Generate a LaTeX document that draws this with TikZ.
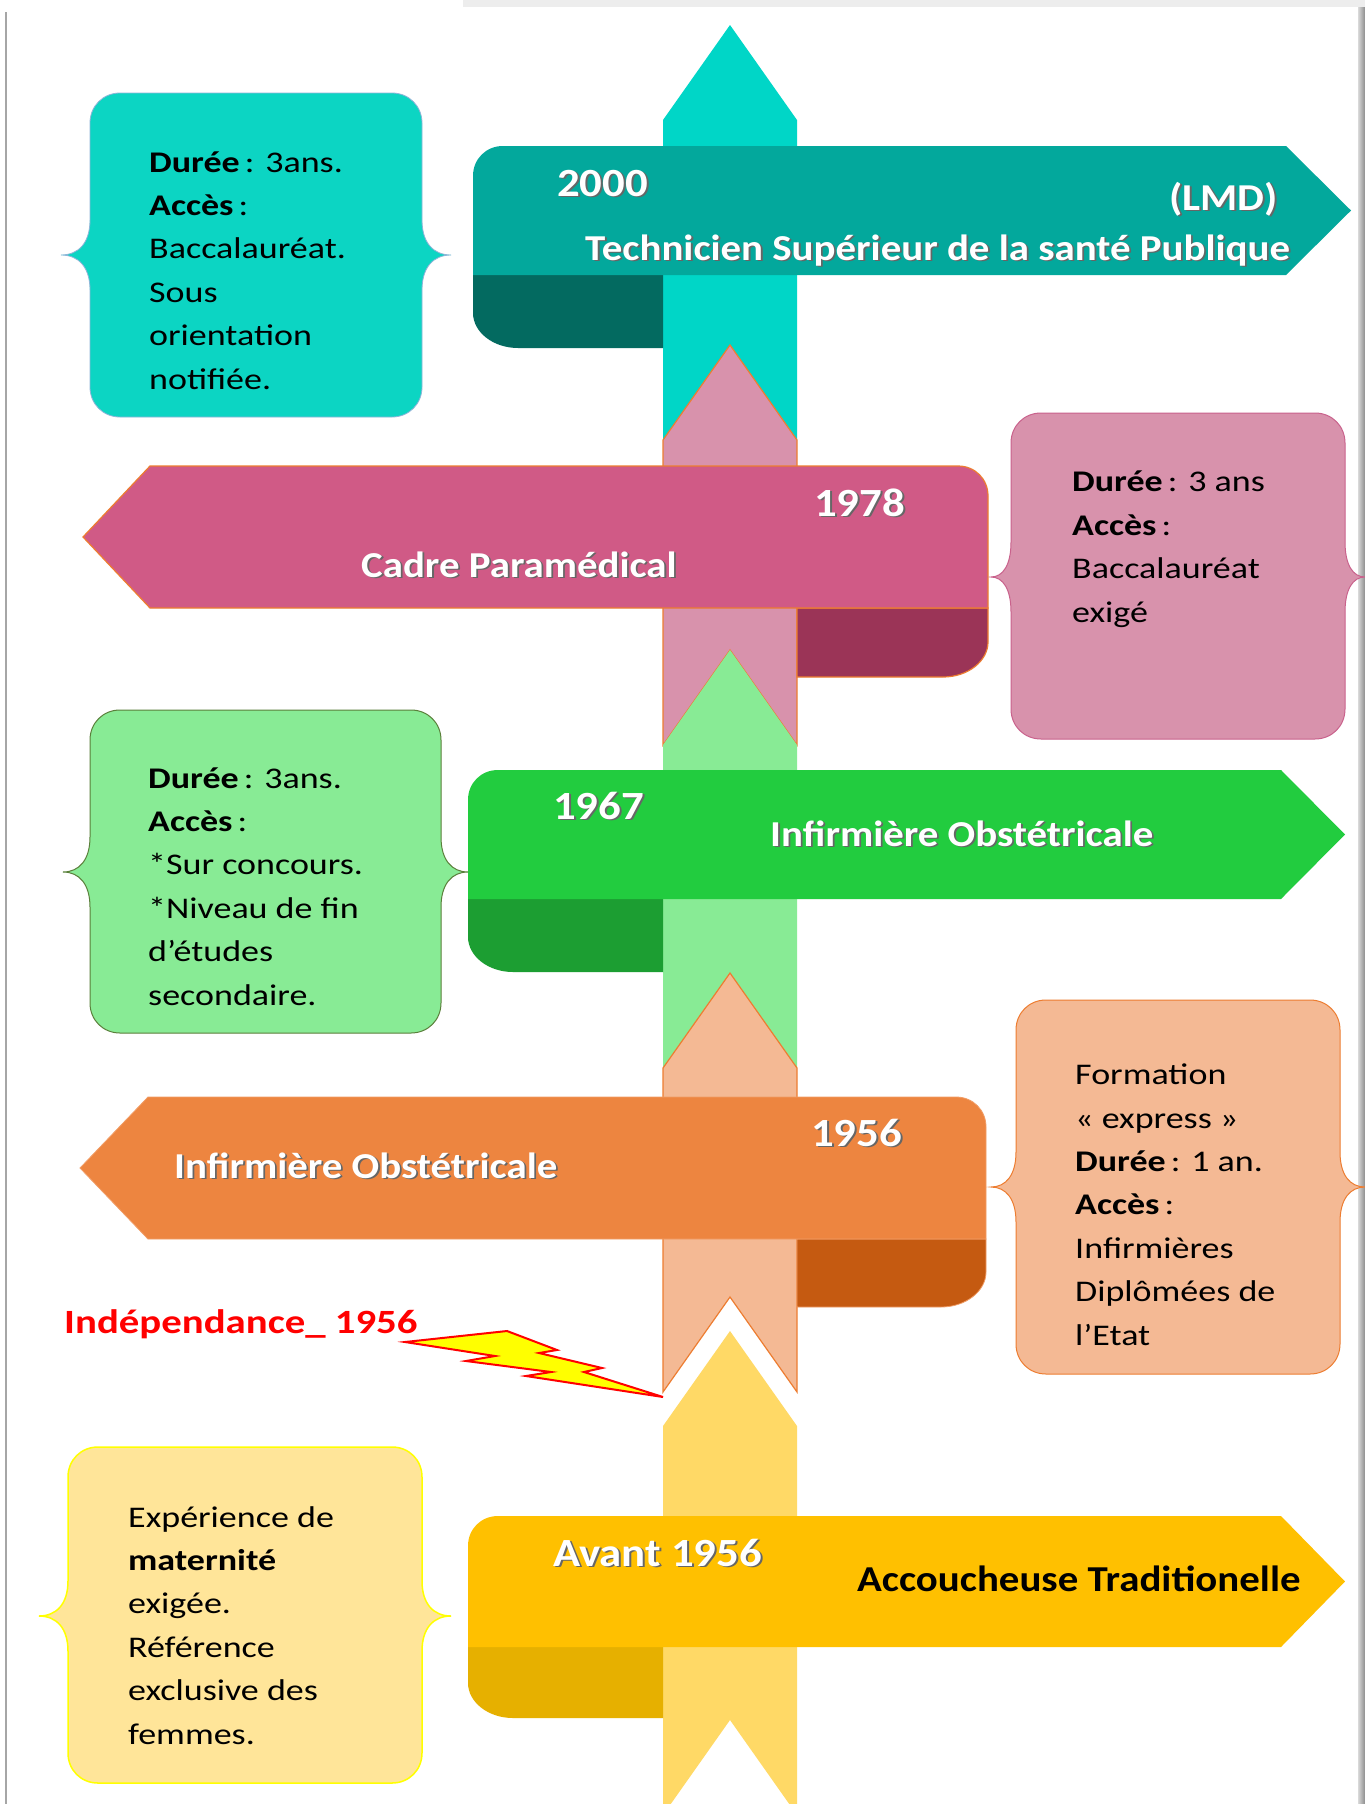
\documentclass[tikz,border=0pt]{standalone}
\usepackage{fontspec}
\setmainfont{Carlito}
\newfontfamily\boxfont{Carlito}[FakeStretch=1.2]
\newfontfamily\bandfont{Carlito}[FakeStretch=1.12]

% palette
\definecolor{tealSpine}{HTML}{00D6C7}
\definecolor{tealBoxc}{HTML}{0CD5C3}
\definecolor{tealBand}{HTML}{03A89C}
\definecolor{tealCurl}{HTML}{036A60}
\definecolor{tealEdge}{HTML}{8FB4D8}
\definecolor{pinkSpine}{HTML}{D892AC}
\definecolor{pinkBand}{HTML}{D05A86}
\definecolor{pinkCurl}{HTML}{9B3457}
\definecolor{pinkEdge}{HTML}{C9628C}
\definecolor{orangeLine}{HTML}{ED7D31}
\definecolor{greenSpine}{HTML}{88EB95}
\definecolor{greenBand}{HTML}{22CC3F}
\definecolor{greenCurl}{HTML}{1C9E32}
\definecolor{greenEdge}{HTML}{5A7F3A}
\definecolor{peach}{HTML}{F4B994}
\definecolor{orangeBand}{HTML}{ED8540}
\definecolor{orangeCurl}{HTML}{C55A11}
\definecolor{yellowSpine}{HTML}{FFD966}
\definecolor{yellowBand}{HTML}{FFC000}
\definecolor{yellowCurl}{HTML}{E6B000}
\definecolor{yellowBoxc}{HTML}{FFE599}
\definecolor{boltYellow}{HTML}{FFFF00}
\definecolor{boltRed}{HTML}{FF0000}

% white label with a soft drop shadow
\newcommand\shd[1]{\rlap{\kern1.8pt\raisebox{-1.8pt}{\textcolor{black!60}{#1}}}#1}

% spine segment: tip, shoulder, bottom corners, notch apex
\newcommand\chev[5]{%
  \path[#5] (730,#1) -- (797,#2) -- (797,#3) -- (730,#4) -- (663,#3) -- (663,#2) -- cycle;}

% ribbon pointing right: L, T, B, curl bottom, shoulder x, tip x, colour prefix
\newcommand\bandR[7]{%
  \fill[#7Curl] (663,{#3-5}) -- (663,#4) -- ({#1+45},#4)
     .. controls ({#1+20},#4) and (#1,{#4-16}) .. (#1,{#4-35}) -- (#1,{#3-5}) -- cycle;
  \fill[#7Band] (#1,{#2+30}) .. controls (#1,{#2+13}) and ({#1+13},#2) .. ({#1+30},#2)
     -- (#5,#2) -- (#6,{(#2+#3)/2}) -- (#5,#3) -- (#1,#3) -- cycle;}

% ribbon pointing left: R, T, B, curl bottom, shoulder x, tip x, colour prefix, extra
\newcommand\bandL[8]{%
  \path[fill=#7Curl,#8] (797,#3) -- (797,#4) -- ({#1-45},#4)
     .. controls ({#1-20},#4) and (#1,{#4-16}) .. (#1,{#4-35}) -- (#1,#3) -- cycle;
  \path[fill=#7Band,#8] (#1,{#2+30}) .. controls (#1,{#2+13}) and ({#1-13},#2) .. ({#1-30},#2)
     -- (#5,#2) -- (#6,{(#2+#3)/2}) -- (#5,#3) -- (#1,#3) -- cycle;}

% rounded box with brace-shaped sides: style, x1, y1, x2, y2, brace y, brace depth
\newcommand\bracebox[7]{%
  \path[#1] ({#2+30},#3) -- ({#4-30},#3) .. controls ({#4-13},#3) and (#4,{#3+13}) .. (#4,{#3+30})
   -- (#4,{#6-35}) .. controls (#4,{#6-12}) and ({#4+0.4*#7},#6) .. ({#4+#7},#6)
   .. controls ({#4+0.4*#7},#6) and (#4,{#6+12}) .. (#4,{#6+35})
   -- (#4,{#5-30}) .. controls (#4,{#5-13}) and ({#4-13},#5) .. ({#4-30},#5)
   -- ({#2+30},#5) .. controls ({#2+13},#5) and (#2,{#5-13}) .. (#2,{#5-30})
   -- (#2,{#6+35}) .. controls (#2,{#6+12}) and ({#2-0.4*#7},#6) .. ({#2-#7},#6)
   .. controls ({#2-0.4*#7},#6) and (#2,{#6-12}) .. (#2,{#6-35})
   -- (#2,{#3+30}) .. controls (#2,{#3+13}) and ({#2+13},#3) .. ({#2+30},#3) -- cycle;}

% box texts are placed by the baseline of their last line
\tikzset{
  boxtext/.style={anchor=base west, inner sep=0pt, align=left, text=black,
    font=\boxfont\fontsize{30}{43.4}\selectfont},
  bandtext/.style={anchor=base west, inner sep=0pt, text=white,
    font=\bandfont\bfseries\fontsize{36.5}{40}\selectfont},
  yeartext/.style={anchor=base west, inner sep=0pt, text=white,
    font=\bandfont\bfseries\fontsize{40}{44}\selectfont},
}

\begin{document}
\begin{tikzpicture}[x=1pt,y=-1pt]
\useasboundingbox (0,0) rectangle (1365,1804);
\fill[white] (0,0) rectangle (1365,1804);

% page edges
\fill[black!7] (463,0) rectangle (1365,7);
\draw[black!35, line width=1.5pt] (6,12) -- (6,1804);
\shade[left color=black!15, right color=black!45] (1358,7) rectangle (1365,1804);

% central spine
\chev{25}{120}{440}{345}{fill=tealSpine}
\chev{345}{440}{745}{650}{fill=pinkSpine, draw=orangeLine, line width=1.2pt}
\chev{650}{745}{1068}{973}{fill=greenSpine}
\chev{973}{1068}{1392}{1297}{fill=peach, draw=orangeLine, line width=1.2pt}
\chev{1331}{1426}{1815}{1720}{fill=yellowSpine}

% ribbons
\bandR{473}{146}{275}{348}{1286}{1351}{teal}
\bandL{988}{466}{608}{677}{150}{83}{pink}{draw=orangeLine, line width=1.2pt}
\bandR{468}{770}{899}{972}{1281}{1345}{green}
\bandL{986}{1097}{1239}{1307}{148}{80}{orange}{draw=orangeBand!80!white, line width=0.8pt}
\bandR{468}{1516}{1647}{1718}{1281}{1345}{yellow}

% information boxes
\bracebox{fill=tealBoxc, draw=tealEdge, line width=0.8pt}{90}{93}{422}{417}{255}{29}
\bracebox{fill=pinkSpine, draw=pinkEdge, line width=1pt}{1011}{413}{1345}{739}{577}{20}
\bracebox{fill=greenSpine, draw=greenEdge, line width=1pt}{90}{710}{441}{1033}{872}{27}
\bracebox{fill=peach, draw=orangeLine, line width=1pt}{1016}{1000}{1340}{1374}{1187}{25}
\bracebox{fill=yellowBoxc, draw=boltYellow, line width=1.5pt}{68}{1447}{422}{1783}{1616}{29}

\node[boxtext] (info2000) at (149,389)
  {\textbf{Durée}\,: 3ans.\\\textbf{Accès}\,:\\Baccalauréat.\\Sous\\orientation\\notifiée.};
\node[boxtext] (info1978) at (1072,622)
  {\textbf{Durée}\,: 3 ans\\\textbf{Accès}\,:\\Baccalauréat\\exigé};
\node[boxtext] (info1967) at (148,1005)
  {\textbf{Durée}\,: 3ans.\\\textbf{Accès}\,:\\{}*Sur concours.\\{}*Niveau de fin\\d’études\\secondaire.};
\node[boxtext] (info1956) at (1075,1345)
  {Formation\\« express »\\\textbf{Durée}\,: 1 an.\\\textbf{Accès}\,:\\Infirmières\\Diplômées de\\l’Etat};
\node[boxtext] (infoAvant) at (128,1744)
  {Expérience de\\\textbf{maternité}\\exigée.\\Référence\\exclusive des\\femmes.};

% ribbon labels
\node[yeartext] (y2000) at (557,196) {\shd{2000}};
\node[bandtext, anchor=base east, font=\bandfont\bfseries\fontsize{38}{42}\selectfont] (lmd) at (1278,210) {\shd{(LMD)}};
\node[bandtext] (tsp) at (585,260) {\shd{Technicien Supérieur de la santé Publique}};
\node[yeartext] (y1978) at (814,516) {\shd{1978}};
\node[bandtext] (cadre) at (361,577) {\shd{Cadre Paramédical}};
\node[yeartext] (y1967) at (553,819) {\shd{1967}};
\node[bandtext] (inf67) at (770,846) {\shd{Infirmière Obstétricale}};
\node[yeartext] (y1956) at (811,1146) {\shd{1956}};
\node[bandtext] (inf56) at (174,1178) {\shd{Infirmière Obstétricale}};
\node[yeartext] (yAvant) at (553,1566) {\shd{Avant 1956}};
\node[bandtext, text=black] (trad) at (857,1591) {Accoucheuse Traditionelle};

% independence marker
\node[anchor=base west, inner sep=0pt, text=boltRed,
      font=\boxfont\bfseries\fontsize{34}{38}\selectfont] (indep) at (64,1333) {Indépendance\_ 1956};
\path[fill=boltYellow, draw=boltRed, line width=2pt, line join=miter]
  (405,1342) -- (507,1331) -- (557,1350) -- (539,1353) -- (602,1368) -- (584,1372)
  -- (663,1397) -- (526,1376) -- (551,1372) -- (466,1361) -- (495,1356) -- cycle;
\end{tikzpicture}
\end{document}
